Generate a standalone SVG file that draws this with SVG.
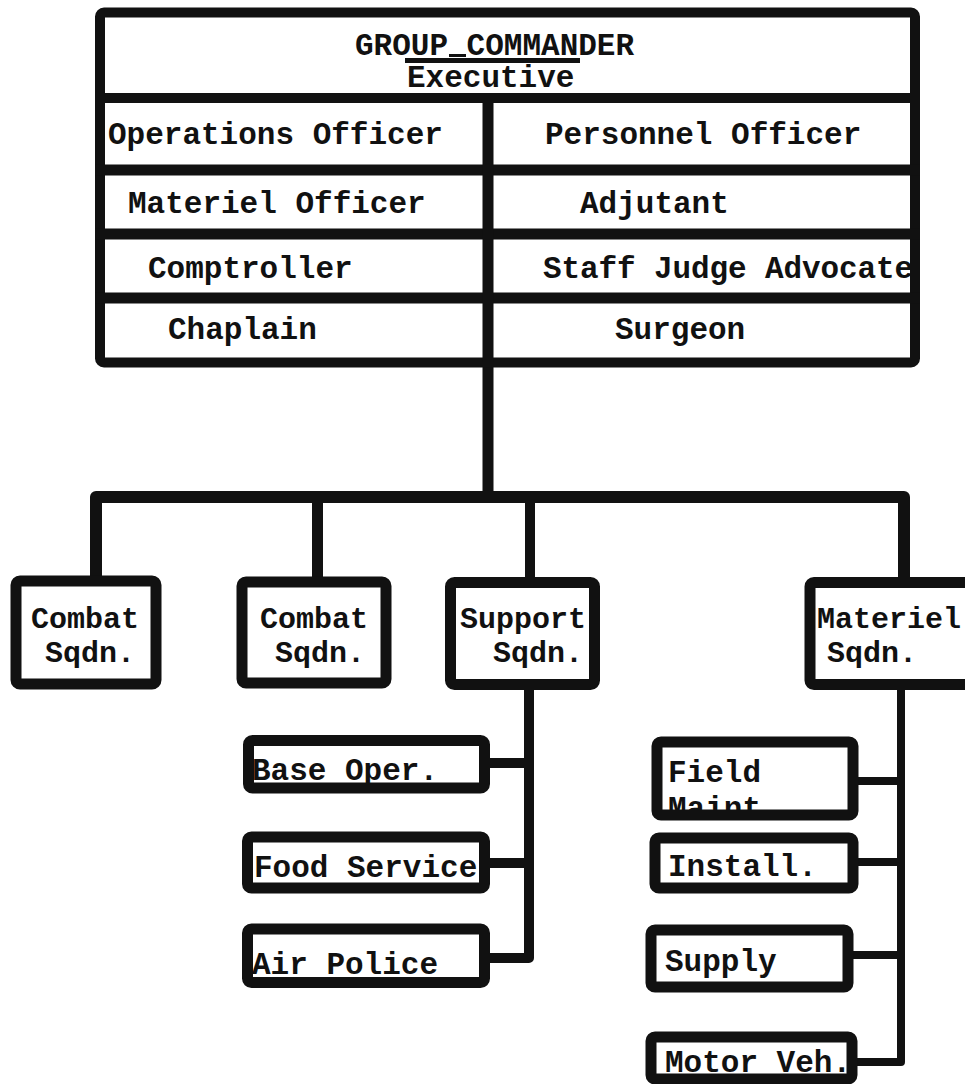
<svg xmlns="http://www.w3.org/2000/svg" width="965" height="1084" viewBox="0 0 965 1084">
<style>
.box{fill:#fff;stroke:#111;stroke-width:11;stroke-linejoin:round}
.ln{fill:none;stroke:#111;stroke-linejoin:round;stroke-linecap:butt}
text{font-family:"Liberation Mono","DejaVu Sans Mono",monospace;font-weight:bold;font-size:31px;fill:#111}
.sm{font-size:30px}
</style>
<rect width="965" height="1084" fill="#fff"/>
<g id="connectors">
<path class="ln" d="M488,362 V497" stroke-width="11"/>
<path class="ln" d="M96,577 V497 H904 V577" stroke-width="12"/>
<path class="ln" d="M317.5,497 V577" stroke-width="11"/>
<path class="ln" d="M530,497 V578" stroke-width="10"/>
<path class="ln" d="M529,690 V958 H490" stroke-width="10"/>
<path class="ln" d="M490,763 H529 M490,863 H529" stroke-width="10"/>
<path class="ln" d="M901,690 V1062 H857" stroke-width="8"/>
<path class="ln" d="M858,781 H901 M853,862 H901 M853,955 H901" stroke-width="8"/>
</g>
<g id="group-commander">
<rect x="100" y="12.5" width="815" height="350" rx="4" fill="#fff" stroke="#111" stroke-width="10"/>
<path class="ln" d="M95,98 H920" stroke-width="10"/>
<path class="ln" d="M95,170 H920 M95,234 H920 M95,298 H920" stroke-width="11"/>
<path class="ln" d="M488,102 V362" stroke-width="11"/>
<text x="355" y="55">GROUP COMMANDER</text>
<rect x="449" y="54" width="17" height="3" fill="#111"/>
<rect x="405" y="58" width="175" height="5" fill="#111"/>
<text x="407" y="87">Executive</text>
<text x="108" y="144">Operations Officer</text>
<text x="545" y="144">Personnel Officer</text>
<text x="128" y="213">Materiel Officer</text>
<text x="580" y="213">Adjutant</text>
<text x="148" y="278">Comptroller</text>
<text x="543" y="278" textLength="370" lengthAdjust="spacing">Staff Judge Advocate</text>
<text x="168" y="339">Chaplain</text>
<text x="615" y="339">Surgeon</text>
</g>
<g id="combat-sqdn-1">
<rect class="box" x="16" y="581" width="140" height="103" rx="4"/>
<text class="sm" x="31" y="628">Combat</text>
<text class="sm" x="45" y="662">Sqdn.</text>
</g>
<g id="combat-sqdn-2">
<rect class="box" x="242" y="582" width="144" height="101" rx="4" stroke-width="14"/>
<text class="sm" x="260" y="628">Combat</text>
<text class="sm" x="275" y="662">Sqdn.</text>
</g>
<g id="support-sqdn">
<rect class="box" x="450.5" y="582.5" width="144" height="102" rx="4"/>
<text class="sm" x="460" y="628">Support</text>
<text class="sm" x="493" y="662">Sqdn.</text>
</g>
<g id="materiel-sqdn">
<rect class="box" x="810" y="582.5" width="170" height="102" rx="4"/>
<text class="sm" x="817" y="628">Materiel</text>
<text class="sm" x="827" y="662">Sqdn.</text>
</g>
<g id="base-oper">
<rect class="box" x="248.5" y="740.5" width="236" height="47.5" rx="4"/>
<text x="252" y="780">Base Oper.</text>
</g>
<g id="food-service">
<rect class="box" x="247.5" y="837" width="237" height="51" rx="4"/>
<text x="254" y="877">Food Service</text>
</g>
<g id="air-police">
<rect class="box" x="247.5" y="929" width="237" height="53.5" rx="4"/>
<text x="252" y="974">Air Police</text>
</g>
<g id="field-maint">
<rect class="box" x="657" y="742" width="196" height="73" rx="4" stroke-width="10"/>
<text x="668" y="782">Field</text>
<text x="668" y="818">Maint.</text>
</g>
<g id="install">
<rect class="box" x="655" y="838" width="198" height="50" rx="4" stroke-width="10"/>
<text x="668" y="876">Install.</text>
</g>
<g id="supply">
<rect class="box" x="651" y="930" width="197" height="57" rx="4" stroke-width="10"/>
<text x="665" y="971">Supply</text>
</g>
<g id="motor-veh">
<rect class="box" x="651" y="1037" width="201" height="42" rx="4" stroke-width="10"/>
<text x="665" y="1072">Motor Veh.</text>
</g>
</svg>
